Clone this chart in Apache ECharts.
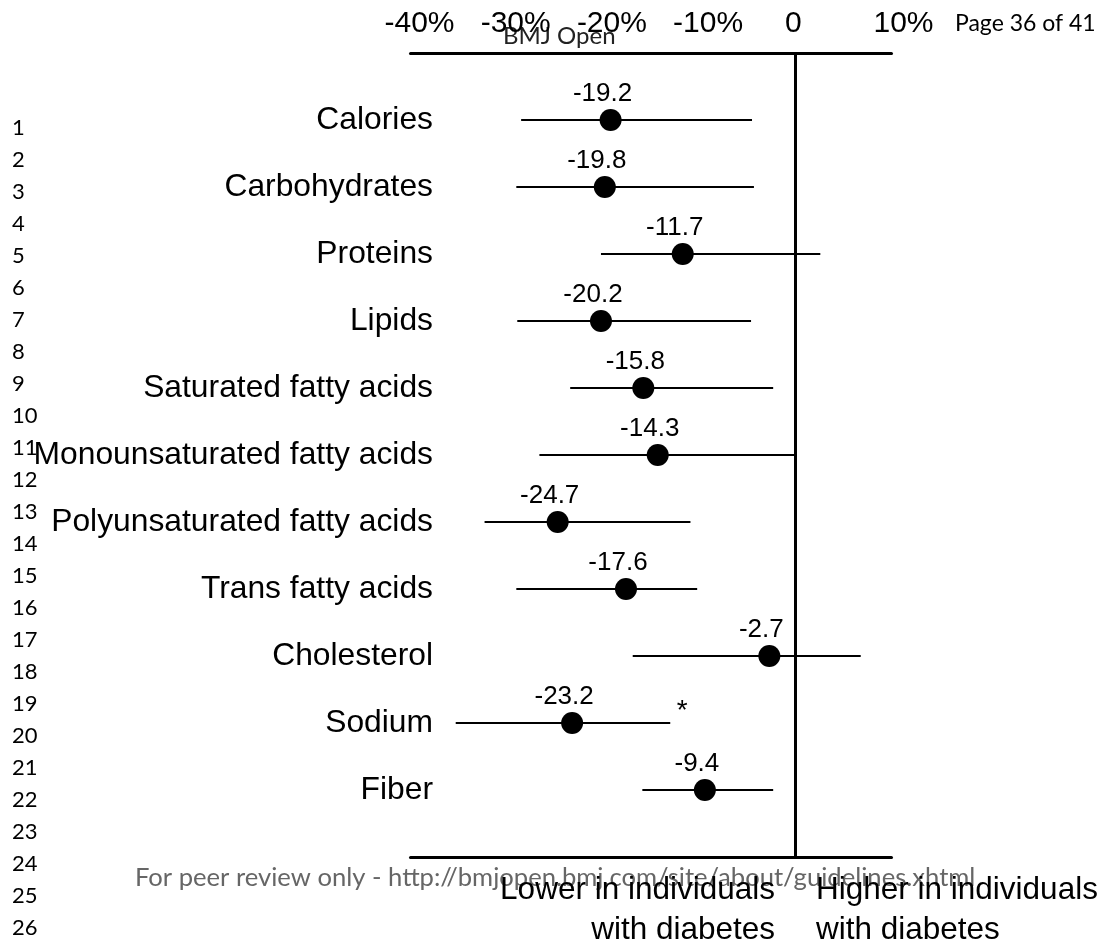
<!DOCTYPE html>
<html>
<head>
<meta charset="utf-8">
<title>Nutrient intake differences</title>
<script src="https://cdn.jsdelivr.net/npm/echarts@6/dist/echarts.min.js"></script>
<style>
  html, body { margin: 0; padding: 0; background: #fff; }
  #chart { width: 1102px; height: 944px; }
</style>
</head>
<body>
<div id="chart"></div>
<script>
// Percentage difference in intake, individuals with vs without diabetes
const categories = ['Calories', 'Carbohydrates', 'Proteins', 'Lipids', 'Saturated fatty acids',
  'Monounsaturated fatty acids', 'Polyunsaturated fatty acids', 'Trans fatty acids',
  'Cholesterol', 'Sodium', 'Fiber'];
const estimates = [-19.2, -19.8, -11.7, -20.2, -15.8, -14.3, -24.7, -17.6, -2.7, -23.2, -9.4];
const ciLower = [-28.5, -29.0, -20.2, -28.9, -23.4, -26.6, -32.3, -29.0, -16.9, -35.3, -15.9];
const ciUpper = [-4.5, -4.3, 2.6, -4.6, -2.3, -0.1, -10.9, -10.2, 6.8, -13.0, -2.3];
const notes = ['', '', '', '', '', '', '', '', '', '*', ''];
const xTicks = [-40, -30, -20, -10, 0, 10];

const FONT = "'Liberation Sans', Arial, sans-serif";
const PAGE_FONT = "Lato, 'Open Sans', sans-serif";

// one blank slot above and below the rows
const yCats = [''].concat(categories, ['']);

const ciData = categories.map((c, i) => [ciLower[i], ciUpper[i], i + 1, notes[i]]);
const pointData = categories.map((c, i) => [estimates[i], i + 1]);

function tickLabel(v) {
  const t = v === 0 ? '0' : v + '%';
  const k = v === 0 ? 'z' : (v === xTicks[xTicks.length - 1] ? 'p' : 'n');
  return '{' + k + '|' + t + '}';
}

const lineNumberTexts = [];
for (let n = 1; n <= 26; n++) {
  lineNumberTexts.push({
    type: 'text', left: 12, top: 129 + 32 * (n - 1) - 12,
    style: { text: String(n), fontFamily: PAGE_FONT, fontSize: 22, fill: '#000' }
  });
}

const chart = echarts.init(document.getElementById('chart'), null, { renderer: 'canvas' });
chart.setOption({
  animation: false,
  backgroundColor: '#fff',
  grid: { left: 410.5, right: 210.5, top: 53, bottom: 87 },
  xAxis: [{
    type: 'value', position: 'top', min: xTicks[0], max: xTicks[xTicks.length - 1], interval: 10,
    axisLine: { show: true, lineStyle: { color: '#000', width: 3 } },
    axisTick: { show: false },
    splitLine: { show: false },
    axisLabel: {
      margin: 14, formatter: tickLabel, color: '#000', fontFamily: FONT, fontSize: 30,
      rich: {
        n: { fontFamily: FONT, fontSize: 30, color: '#000', padding: [0, 0, 0, 18] },
        z: { fontFamily: FONT, fontSize: 30, color: '#000', padding: [0, 4, 0, 0] },
        p: { fontFamily: FONT, fontSize: 30, color: '#000', padding: [0, 0, 0, 24] }
      }
    }
  }, {
    type: 'value', position: 'bottom', min: xTicks[0], max: xTicks[xTicks.length - 1], interval: 10,
    axisLine: { show: true, lineStyle: { color: '#000', width: 3 } },
    axisTick: { show: false }, axisLabel: { show: false }, splitLine: { show: false }
  }],
  yAxis: {
    type: 'category', data: yCats, inverse: true, boundaryGap: false,
    axisLine: { show: false }, axisTick: { show: false }, splitLine: { show: false },
    axisLabel: { margin: -22.5, color: '#000', fontFamily: FONT, fontSize: 31.8, interval: 0 }
  },
  series: [{
    type: 'custom',
    xAxisIndex: 0,
    data: ciData,
    z: 2,
    renderItem: function (params, api) {
      const a = api.coord([api.value(0), api.value(2)]);
      const b = api.coord([api.value(1), api.value(2)]);
      const children = [{
        type: 'line',
        shape: { x1: a[0], y1: a[1], x2: b[0], y2: b[1] },
        style: { stroke: '#000', lineWidth: 1.8 }
      }];
      const note = ciData[params.dataIndex][3];
      if (note) {
        children.push({
          type: 'text', x: b[0] + 12, y: b[1] - 12,
          style: { text: note, fontFamily: FONT, fontSize: 28, fill: '#000', align: 'center', verticalAlign: 'middle' }
        });
      }
      return { type: 'group', children: children };
    }
  }, {
    type: 'scatter',
    xAxisIndex: 0,
    data: pointData,
    symbol: 'circle', symbolSize: 22,
    itemStyle: { color: '#000', opacity: 1 },
    emphasis: { disabled: true },
    z: 3,
    label: {
      show: true, position: 'top', distance: 2, offset: [-8, 0],
      formatter: p => String(p.value[0]),
      color: '#000', opacity: 1, fontFamily: FONT, fontSize: 26
    },
    markLine: {
      silent: true, symbol: ['none', 'none'],
      label: { show: false },
      lineStyle: { color: '#000', width: 3, type: 'solid', opacity: 1 },
      data: [{ xAxis: 0 }]
    }
  }],
  graphic: [
    { type: 'text', x: 503, y: 24, style: { text: 'BMJ Open', fontFamily: PAGE_FONT, fontSize: 24, fill: '#222' } },
    { type: 'text', x: 955, y: 12, style: { text: 'Page 36 of 41', fontFamily: PAGE_FONT, fontSize: 23, fill: '#000' } },
    { type: 'text', x: 135, y: 865, style: { text: 'For peer review only - http://bmjopen.bmj.com/site/about/guidelines.xhtml', fontFamily: PAGE_FONT, fontSize: 25.6, fill: '#666' } },
    { type: 'text', x: 775, y: 870, style: { text: 'Lower in individuals\nwith diabetes', fontFamily: FONT, fontSize: 31.5, lineHeight: 40, fill: '#000', align: 'right' } },
    { type: 'text', x: 816, y: 870, style: { text: 'Higher in individuals\nwith diabetes', fontFamily: FONT, fontSize: 31.5, lineHeight: 40, fill: '#000', align: 'left' } }
  ].concat(lineNumberTexts)
});
</script>
</body>
</html>
